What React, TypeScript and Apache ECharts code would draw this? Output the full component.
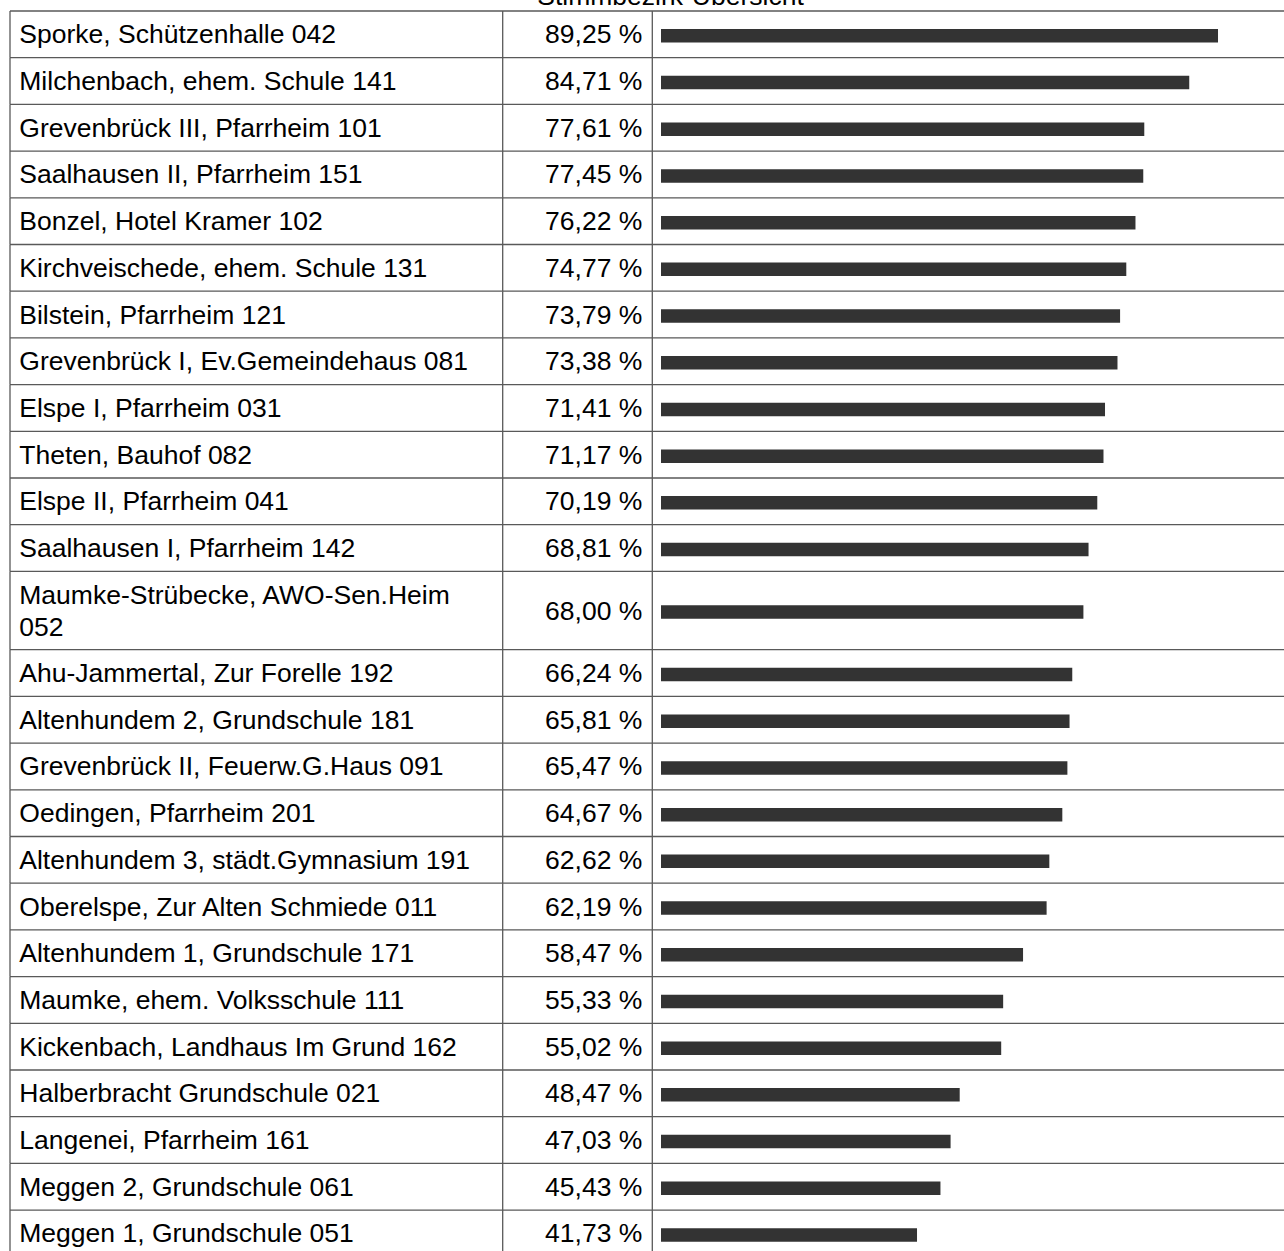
import React, { useEffect, useRef } from "react";
import * as echarts from "echarts";

const TITLE = "Stimmbezirk-Übersicht";

const districts: string[] = [
  "Sporke, Schützenhalle 042",
  "Milchenbach, ehem. Schule 141",
  "Grevenbrück III, Pfarrheim 101",
  "Saalhausen II, Pfarrheim 151",
  "Bonzel, Hotel Kramer 102",
  "Kirchveischede, ehem. Schule 131",
  "Bilstein, Pfarrheim 121",
  "Grevenbrück I, Ev.Gemeindehaus 081",
  "Elspe I, Pfarrheim 031",
  "Theten, Bauhof 082",
  "Elspe II, Pfarrheim 041",
  "Saalhausen I, Pfarrheim 142",
  "Maumke-Strübecke, AWO-Sen.Heim\n052",
  "Ahu-Jammertal, Zur Forelle 192",
  "Altenhundem 2, Grundschule 181",
  "Grevenbrück II, Feuerw.G.Haus 091",
  "Oedingen, Pfarrheim 201",
  "Altenhundem 3, städt.Gymnasium 191",
  "Oberelspe, Zur Alten Schmiede 011",
  "Altenhundem 1, Grundschule 171",
  "Maumke, ehem. Volksschule 111",
  "Kickenbach, Landhaus Im Grund 162",
  "Halberbracht Grundschule 021",
  "Langenei, Pfarrheim 161",
  "Meggen 2, Grundschule 061",
  "Meggen 1, Grundschule 051",
];

const turnout: number[] = [
  89.25, 84.71, 77.61, 77.45, 76.22, 74.77, 73.79, 73.38, 71.41, 71.17, 70.19,
  68.81, 68.0, 66.24, 65.81, 65.47, 64.67, 62.62, 62.19, 58.47, 55.33, 55.02,
  48.47, 47.03, 45.43, 41.73,
];

// layout constants (pixels)
const ROW_PX = 46.7;
const EXTRA_LINE_PX = 31.6;
const TABLE_LEFT = 10;
const TABLE_TOP = 11;
const COL1_RIGHT = 502.7;
const COL2_RIGHT = 652.3;
const TABLE_RIGHT = 1340;
const BAR_INSET = 8.3;
const BAR_H = 13.5;
const BAR_SHIFT = 1.5;
const FONT = '"Liberation Sans", Arial, Helvetica, sans-serif';
const FONT_SIZE = 26.5;
const LINE_COLOR = "#595959";

export default function App() {
  const ref = useRef<HTMLDivElement>(null);

  useEffect(() => {
    if (!ref.current) return;
    const chart = echarts.init(ref.current, undefined, { renderer: "svg" });

    // row extents in "row units"
    const spans = districts.map(
      (d) => 1 + (d.split("\n").length - 1) * (EXTRA_LINE_PX / ROW_PX)
    );
    const starts: number[] = [];
    let acc = 0;
    spans.forEach((s) => {
      starts.push(acc);
      acc += s;
    });
    const total = acc;
    const data = turnout.map((v, i) => [v, starts[i], starts[i] + spans[i], i]);
    const last = turnout.length - 1;

    chart.setOption({
      animation: false,
      backgroundColor: "#ffffff",
      grid: {
        left: COL2_RIGHT + 0.4,
        top: TABLE_TOP,
        width: 633.4,
        height: total * ROW_PX,
        containLabel: false,
        outerBoundsMode: "none",
      },
      xAxis: { type: "value", min: 0, max: 100, show: false },
      yAxis: { type: "value", min: 0, max: total, inverse: true, show: false },
      graphic: [
        {
          type: "text",
          x: 670.5,
          y: -4.2,
          style: {
            text: TITLE,
            fontSize: FONT_SIZE,
            fontFamily: FONT,
            fill: "#000",
            align: "center",
            verticalAlign: "middle",
          },
        },
      ],
      series: [
        {
          type: "custom",
          clip: false,
          data,
          encode: { x: 0, y: [1, 2] },
          renderItem: (params: any, api: any) => {
            const i = params.dataIndex;
            const v = api.value(0);
            const s = api.value(1);
            const e = api.value(2);
            const p0 = api.coord([0, s]);
            const p1 = api.coord([0, e]);
            const pv = api.coord([v, s]);
            const yTop = p0[1];
            const yBot = p1[1];
            const yMid = (yTop + yBot) / 2;
            const lineStyle = { stroke: LINE_COLOR, lineWidth: 1.3 };
            const children: any[] = [
              {
                type: "line",
                shape: { x1: TABLE_LEFT, y1: yTop, x2: TABLE_RIGHT, y2: yTop },
                style: lineStyle,
              },
              {
                type: "line",
                shape: { x1: TABLE_LEFT, y1: yTop, x2: TABLE_LEFT, y2: yBot },
                style: lineStyle,
              },
              {
                type: "line",
                shape: { x1: COL1_RIGHT, y1: yTop, x2: COL1_RIGHT, y2: yBot },
                style: lineStyle,
              },
              {
                type: "line",
                shape: { x1: COL2_RIGHT, y1: yTop, x2: COL2_RIGHT, y2: yBot },
                style: lineStyle,
              },
              {
                type: "text",
                x: TABLE_LEFT + 9.3,
                y: yMid,
                style: {
                  text: districts[i],
                  fontSize: FONT_SIZE,
                  fontFamily: FONT,
                  lineHeight: 32,
                  fill: "#000",
                  align: "left",
                  verticalAlign: "middle",
                },
              },
              {
                type: "text",
                x: COL2_RIGHT - 10,
                y: yMid,
                style: {
                  text: v.toFixed(2).replace(".", ",") + " %",
                  fontSize: FONT_SIZE,
                  fontFamily: FONT,
                  fill: "#000",
                  align: "right",
                  verticalAlign: "middle",
                },
              },
              {
                type: "rect",
                shape: {
                  x: p0[0] + BAR_INSET,
                  y: yMid + BAR_SHIFT - BAR_H / 2,
                  width: Math.max(0, pv[0] - p0[0] - BAR_INSET),
                  height: BAR_H,
                },
                style: { fill: "#333333" },
              },
            ];
            if (i === last) {
              children.push({
                type: "line",
                shape: { x1: TABLE_LEFT, y1: yBot, x2: TABLE_RIGHT, y2: yBot },
                style: lineStyle,
              });
            }
            return { type: "group", children };
          },
        },
      ],
    });

    return () => chart.dispose();
  }, []);

  return (
    <div
      ref={ref}
      style={{ position: "absolute", left: 0, top: 0, width: 1284, height: 1251 }}
    />
  );
}
